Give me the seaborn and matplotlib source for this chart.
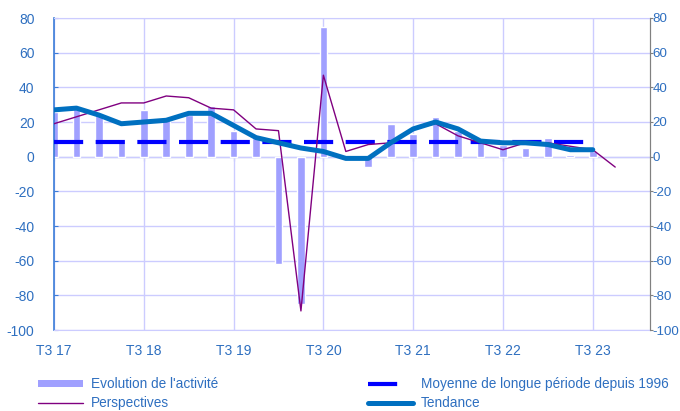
import numpy as np
import pandas as pd
import matplotlib
matplotlib.use("Agg")
import matplotlib.pyplot as plt
from matplotlib.patches import Patch
from matplotlib.lines import Line2D
import seaborn as sns

# Quarter labels (T3 2017 -> T4 2023)
quarters = ["T3 17", "T4 17", "T1 18", "T2 18", "T3 18", "T4 18", "T1 19", "T2 19",
            "T3 19", "T4 19", "T1 20", "T2 20", "T3 20", "T4 20", "T1 21", "T2 21",
            "T3 21", "T4 21", "T1 22", "T2 22", "T3 22", "T4 22", "T1 23", "T2 23",
            "T3 23", "T4 23"]

activite = [26, 29, 24, 10, 27, 21, 24, 29, 15, 11, -62, -85, 75, 1, -6, 19,
            13, 23, 15, 9, 7, 5, 11, 1, 3]
perspectives = [19, 23, 27, 31, 31, 35, 34, 28, 27, 16, 15, -89, 47, 3, 7, 8,
                16, 19, 12, 8, 4, 8, 8, 6, 4, -6]
tendance = [27, 28, 24, 19, 20, 21, 25, 25, 18, 11, 8, 5, 3, -1, -1, 8,
            16, 20, 16, 9, 8, 8, 7, 4, 4]
moyenne = [8.2] * 25

yticks = list(range(-100, 81, 20))
label_color = "#2E6FC0"

df = pd.DataFrame({"q": np.arange(len(activite)), "activite": activite,
                   "tendance": tendance, "moyenne": moyenne})
df_p = pd.DataFrame({"q": np.arange(len(perspectives)), "perspectives": perspectives})

sns.set_style("white")
plt.rcParams["font.family"] = ["Liberation Sans", "DejaVu Sans"]
plt.rcParams["axes.unicode_minus"] = False

fig = plt.figure(figsize=(6.8, 4.11), dpi=100)
ax = fig.add_axes([54 / 680, 1 - 330 / 411, 596 / 680, 312 / 411])

# grid
ax.set_axisbelow(True)
ax.grid(True, color="#CCCCFF", linewidth=1)

sns.barplot(data=df, x="q", y="activite", native_scale=True, width=0.34,
            color="#A0A0FF", saturation=1, ax=ax, zorder=2)
sns.lineplot(data=df, x="q", y="moyenne", color="#0000FF", linewidth=3,
             dashes=False, ax=ax, zorder=3)
ax.lines[-1].set_dashes((7, 3))
ax.lines[-1].set_dash_capstyle("butt")
sns.lineplot(data=df_p, x="q", y="perspectives", color="#800080", linewidth=1,
             ax=ax, zorder=4)
sns.lineplot(data=df, x="q", y="tendance", color="#0070C0", linewidth=3.6,
             ax=ax, zorder=5)

ax.set_xlim(0, 26.55)
ax.set_ylim(-100, 80)
ax.set_yticks(yticks)
ax.set_xticks(range(0, 25, 4))
ax.set_xticklabels([quarters[i] for i in range(0, 25, 4)])
ax.set_xlabel("")
ax.set_ylabel("")
ax.tick_params(axis="x", length=0, pad=10, labelsize=10, labelcolor=label_color)
ax.tick_params(axis="y", direction="in", length=3, pad=14, labelsize=10,
               labelcolor=label_color, color="#3B7DD8")

for side in ["top", "bottom"]:
    ax.spines[side].set_color("#CCCCFF")
ax.spines["left"].set_color("#3B7DD8")
ax.spines["left"].set_linewidth(1.2)
ax.spines["right"].set_color("#808080")

# zero axis with tick marks
zero_ax = ax.secondary_xaxis(100 / 180)
zero_ax.set_xticks(range(0, 25, 4))
zero_ax.tick_params(axis="x", direction="inout", length=6, color="#3B7DD8",
                    labelbottom=False, labeltop=False)
zero_ax.spines["bottom"].set_color("#3B7DD8")
zero_ax.spines["top"].set_color("#3B7DD8")
zero_ax.set_xticklabels([])

# right axis mirror
ax2 = ax.twinx()
ax2.set_ylim(-100, 80)
ax2.set_yticks(yticks)
ax2.tick_params(axis="y", direction="out", length=2, pad=0, labelsize=9.6,
                labelcolor=label_color, color="#808080")
for side in ["top", "bottom", "left"]:
    ax2.spines[side].set_visible(False)
ax2.spines["right"].set_color("#808080")

# legends
h1 = [Patch(facecolor="#A0A0FF", edgecolor="none"),
      Line2D([], [], color="#800080", linewidth=1)]
h2 = [Line2D([], [], color="#0000FF", linewidth=3, dashes=(7, 9),
             dash_capstyle="butt"),
      Line2D([], [], color="#0070C0", linewidth=3.6)]
leg_kw = dict(frameon=False, fontsize=9.8, handletextpad=0.6, labelspacing=0.36,
              borderpad=0, borderaxespad=0, labelcolor=label_color,
              loc="upper left", handleheight=0.4)
l1 = fig.legend(h1, ["Evolution de l'activité", "Perspectives"],
                bbox_to_anchor=(38 / 680, 1 - 377 / 411), handlelength=3.3, **leg_kw)
l2 = fig.legend(h2, ["Moyenne de longue période depuis 1996", "Tendance"],
                bbox_to_anchor=(368 / 680, 1 - 377 / 411), handlelength=3.3, **leg_kw)

fig.savefig("out.png", dpi=100)
